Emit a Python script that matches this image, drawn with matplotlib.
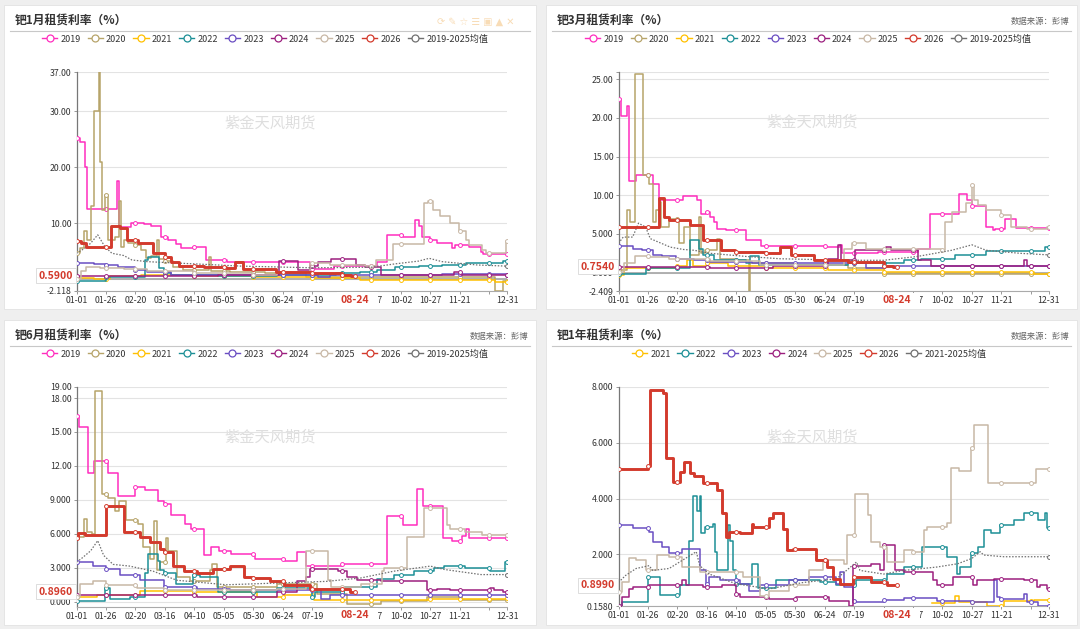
import numpy as np
import matplotlib
matplotlib.use("Agg")
import matplotlib.pyplot as plt
from matplotlib.patches import Rectangle
from matplotlib.lines import Line2D

plt.rcParams['font.family'] = ['Noto Sans CJK SC', 'DejaVu Sans']
plt.rcParams['axes.unicode_minus'] = False

# ---------------- x axis (day of year, leap-year calendar) ----------------
TICK_DAYS = [0, 25, 50, 75, 100, 125, 150, 175, 200, 225, 250, 275, 300, 325, 350, 365]
TICK_LABELS = ["01-01", "01-26", "02-20", "03-16", "04-10", "05-05", "05-30", "06-24",
               "07-19", "08-13", "09-07", "10-02", "10-27", "11-21", "12-16", "12-31"]
HIDDEN_LABELS = ["08-13", "12-16"]
CUR_DAY = 236
CUR_LABEL = "08-24"

YEARS_A = ["2019", "2020", "2021", "2022", "2023", "2024", "2025", "2026", "2019-2025均值"]
YEARS_B = ["2021", "2022", "2023", "2024", "2025", "2026", "2021-2025均值"]

# ---------------- Panel 1: 1-month lease rate ----------------
P1_2019_D = [0, 3, 7, 9, 34, 36, 46, 57, 63, 72, 78, 84, 89, 99, 110, 128, 198, 218, 255, 263, 277, 287, 290, 293, 300, 306, 318, 321, 333, 343, 345, 365]
P1_2019_V = [25.3, 24.5, 20.0, 12.5, 17.5, 9.3, 10.0, 9.8, 9.4, 7.6, 7.0, 6.2, 5.5, 5.7, 3.4, 3.0, 1.8, 2.4, 3.1, 7.9, 7.6, 10.6, 9.4, 7.6, 7.0, 6.4, 5.5, 6.1, 5.7, 4.9, 4.5, 4.5]
P1_2020_D = [0, 3, 6, 9, 12, 15, 19, 20, 22, 24, 27, 33, 36, 38, 40, 44, 49, 55, 59, 63, 68, 70, 75, 82, 90, 112, 114, 130, 160, 195, 355, 362, 365]
P1_2020_V = [4.6, 5.5, 8.5, 7.0, 13.0, 30.0, 37.0, 21.0, 12.4, 15.0, 7.0, 7.5, 13.9, 5.8, 7.0, 6.5, 6.0, 5.2, 3.7, 4.2, 7.0, 3.5, 3.3, 2.2, 1.6, 4.0, 1.5, 1.3, 1.0, 0.3, -2.1, -0.3, -0.3]
P1_2021_D = [0, 15, 28, 55, 100, 150, 200, 240, 300, 355, 365]
P1_2021_V = [0.1, 0.0, 0.5, 0.7, 0.5, 0.3, 0.1, -0.2, -0.1, -0.6, -0.6]
P1_2022_D = [0, 25, 58, 61, 70, 74, 80, 120, 170, 220, 240, 255, 270, 290, 310, 330, 355, 362, 365]
P1_2022_V = [-0.3, 0.4, 3.4, 4.0, 2.0, 1.0, 0.7, 0.6, 0.8, 1.0, 1.3, 1.6, 2.1, 2.4, 2.5, 2.8, 2.8, 3.3, 3.3]
P1_2023_D = [0, 15, 25, 35, 50, 60, 80, 200, 205, 215, 300, 310, 365]
P1_2023_V = [2.9, 2.7, 2.5, 2.2, 1.6, 1.2, 0.8, 0.7, 0.4, 0.7, 0.8, 0.9, 0.7]
P1_2024_D = [0, 120, 172, 188, 198, 205, 216, 237, 245, 258, 320, 326, 365]
P1_2024_V = [0.6, 0.7, 3.2, 1.6, 2.3, 3.0, 3.6, 2.5, 2.2, 0.8, 1.3, 0.8, 0.8]
P1_2025_D = [0, 4, 8, 20, 40, 60, 100, 150, 170, 198, 215, 245, 254, 268, 295, 298, 302, 308, 317, 324, 330, 333, 344, 347, 364, 365]
P1_2025_V = [0.0, 1.5, 2.2, 2.0, 1.8, 1.5, 1.0, 0.8, 1.2, 2.8, 2.5, 2.3, 3.4, 6.3, 13.6, 13.9, 12.4, 11.2, 10.0, 8.5, 7.0, 6.1, 5.2, 4.6, 6.8, 6.8]
P1_2026_D = [0, 4, 8, 29, 37, 43, 52, 65, 75, 80, 87, 108, 127, 134, 141, 169, 199, 225, 233, 236]
P1_2026_V = [6.8, 6.5, 5.8, 9.5, 9.1, 7.0, 6.4, 4.6, 4.0, 3.1, 2.3, 2.2, 1.9, 3.1, 1.7, 1.3, 1.0, 0.8, 0.59, 0.59]
P1_MEAN_D = [0, 7, 12, 18, 24, 30, 40, 47, 60, 90, 140, 200, 250, 270, 290, 299, 310, 340, 365]
P1_MEAN_V = [4.6, 5.5, 6.4, 7.9, 5.8, 4.6, 4.2, 3.4, 3.1, 2.8, 2.3, 2.0, 2.1, 2.7, 3.2, 3.7, 3.1, 2.5, 2.3]

# ---------------- Panel 2: 3-month lease rate ----------------
P2_2019_D = [0, 2, 7, 9, 15, 29, 34, 55, 67, 70, 74, 78, 81, 84, 91, 108, 121, 176, 188, 190, 220, 254, 264, 289, 296, 300, 312, 318, 320, 328, 337, 365]
P2_2019_V = [22.4, 20.3, 21.5, 11.9, 12.6, 11.5, 9.4, 9.9, 9.4, 7.6, 7.8, 7.2, 6.6, 5.7, 5.5, 4.2, 3.4, 3.3, 3.6, 2.5, 2.7, 3.1, 7.6, 10.2, 9.4, 8.6, 5.9, 5.5, 5.7, 7.0, 5.8, 5.8]
P2_2020_D = [0, 7, 10, 14, 21, 26, 29, 32, 35, 36, 43, 51, 56, 61, 68, 70, 73, 84, 86, 100, 111, 112, 150, 195, 225, 365]
P2_2020_V = [0.3, 8.1, 6.5, 25.7, 12.6, 11.5, 6.6, 8.1, 9.1, 5.9, 7.0, 3.8, 5.9, 2.3, 7.2, 2.5, 2.9, 4.4, 1.8, 1.6, -2.409, 1.2, 1.0, 0.6, -0.2, -0.2]
P2_2021_D = [0, 5, 50, 58, 63, 75, 93, 124, 178, 225, 353, 365]
P2_2021_V = [-0.3, 0.6, 0.8, 1.6, 0.9, 1.2, 0.8, 0.6, 0.3, 0.1, -0.2, -0.2]
P2_2022_D = [0, 23, 61, 68, 72, 81, 108, 112, 119, 195, 225, 242, 257, 286, 312, 362, 365]
P2_2022_V = [-0.2, 0.6, 4.2, 3.1, 2.3, 1.6, 1.2, 2.1, 1.0, 1.2, 1.3, 1.6, 1.8, 2.3, 2.8, 3.3, 3.3]
P2_2023_D = [0, 12, 20, 29, 37, 49, 64, 78, 113, 210, 225, 365]
P2_2023_V = [3.4, 3.1, 2.9, 2.3, 2.1, 1.8, 1.6, 1.4, 1.2, 0.6, 0.8, 0.8]
P2_2024_D = [0, 78, 131, 178, 186, 189, 201, 227, 231, 254, 265, 344, 347, 365]
P2_2024_V = [0.7, 0.6, 0.8, 1.8, 3.6, 1.6, 2.9, 3.3, 2.9, 1.6, 0.8, 1.6, 0.8, 0.8]
P2_2025_D = [0, 5, 14, 26, 43, 78, 120, 191, 198, 210, 274, 277, 283, 295, 300, 302, 305, 312, 325, 333, 347, 364, 365]
P2_2025_V = [0.1, 1.2, 2.2, 2.0, 1.8, 1.5, 1.0, 3.1, 3.8, 3.0, 2.9, 6.5, 7.8, 9.0, 11.3, 9.4, 8.7, 8.1, 7.4, 5.9, 5.6, 5.9, 5.9]
P2_2026_D = [0, 34, 39, 43, 61, 72, 87, 99, 125, 137, 146, 166, 195, 225, 233, 236]
P2_2026_V = [5.9, 9.6, 7.2, 6.8, 6.1, 4.2, 2.9, 2.7, 2.5, 3.3, 2.3, 1.7, 1.4, 0.9, 0.754, 0.754]
P2_MEAN_D = [0, 4, 12, 17, 23, 27, 44, 55, 64, 78, 108, 137, 195, 225, 254, 283, 300, 312, 341, 365]
P2_MEAN_V = [3.8, 4.6, 4.6, 6.4, 5.9, 4.4, 3.3, 3.0, 2.9, 2.5, 2.1, 1.8, 1.6, 1.6, 2.1, 2.9, 3.6, 2.9, 2.5, 2.3]

# ---------------- Panel 3: 6-month lease rate ----------------
P3_2019_D = [0, 2, 10, 15, 27, 35, 50, 58, 69, 74, 80, 92, 97, 108, 114, 121, 131, 151, 177, 187, 195, 225, 263, 277, 289, 294, 311, 318, 327, 330, 333, 365]
P3_2019_V = [16.4, 15.45, 11.4, 12.45, 11.4, 9.3, 10.1, 9.9, 8.9, 8.6, 7.7, 6.9, 6.4, 4.1, 4.8, 4.5, 4.2, 3.8, 3.6, 4.4, 3.15, 3.3, 7.6, 6.8, 10.0, 8.5, 5.6, 5.4, 5.8, 6.4, 5.6, 5.6]
P3_2020_D = [0, 6, 9, 13, 16, 22, 27, 33, 36, 42, 52, 56, 62, 66, 68, 71, 76, 78, 85, 96, 113, 115, 119, 170, 204, 229, 258, 297, 326, 365]
P3_2020_V = [5.7, 7.3, 6.2, 6.0, 18.66, 9.5, 9.2, 8.0, 8.9, 7.2, 6.9, 4.8, 3.8, 7.1, 2.8, 3.5, 5.6, 4.5, 2.2, 1.8, 2.8, 3.3, 1.3, 1.6, 0.7, -0.2, 0.1, 0.4, 0.15, 0.15]
P3_2021_D = [0, 17, 54, 99, 153, 176, 201, 300, 365]
P3_2021_V = [0.4, 0.6, 0.95, 0.85, 0.4, 0.6, 0.15, 0.2, 0.3]
P3_2022_D = [0, 24, 28, 45, 58, 61, 69, 71, 74, 84, 99, 105, 120, 170, 200, 202, 227, 255, 269, 286, 303, 312, 329, 351, 363, 365]
P3_2022_V = [0.1, 1.2, 0.25, 0.4, 2.5, 4.2, 3.6, 2.8, 2.5, 1.6, 2.4, 2.2, 0.9, 1.25, 0.4, 0.85, 1.3, 2.0, 2.4, 2.7, 3.0, 3.15, 3.0, 2.7, 3.5, 3.5]
P3_2023_D = [0, 14, 25, 37, 54, 74, 102, 130, 190, 207, 215, 365]
P3_2023_V = [3.5, 3.15, 2.85, 2.4, 1.9, 1.3, 1.15, 1.05, 1.0, 0.25, 0.6, 0.6]
P3_2024_D = [0, 102, 170, 187, 195, 198, 222, 229, 238, 258, 297, 306, 317, 351, 354, 362, 365]
P3_2024_V = [0.6, 0.45, 0.85, 1.8, 2.2, 2.85, 2.7, 2.2, 1.9, 1.8, 1.0, 1.15, 1.0, 1.25, 1.0, 0.85, 0.85]
P3_2025_D = [0, 3, 14, 25, 51, 74, 102, 170, 195, 213, 216, 241, 259, 261, 280, 295, 314, 317, 329, 344, 365]
P3_2025_V = [0.4, 1.6, 1.8, 1.5, 1.25, 1.05, 1.0, 1.1, 4.5, 1.9, 1.3, 1.6, 2.7, 3.0, 5.75, 8.3, 6.8, 6.4, 6.2, 5.9, 5.9]
P3_2026_D = [0, 1, 7, 25, 40, 54, 62, 71, 74, 82, 91, 102, 116, 130, 142, 150, 164, 176, 198, 232, 236]
P3_2026_V = [5.6, 6.05, 5.9, 8.5, 6.2, 5.75, 5.3, 4.7, 4.4, 3.15, 2.7, 2.5, 2.85, 3.15, 2.2, 2.1, 1.8, 1.5, 1.15, 0.896, 0.896]
P3_MEAN_D = [0, 4, 12, 18, 23, 31, 45, 65, 85, 127, 212, 241, 269, 300, 312, 343, 365]
P3_MEAN_V = [3.5, 3.8, 4.5, 5.4, 4.1, 3.3, 3.15, 2.7, 1.9, 1.5, 1.8, 2.1, 2.7, 3.15, 2.85, 2.4, 2.4]

# ---------------- Panel 4: 1-year lease rate ----------------
P4_2021_D = [266, 286, 289, 313, 327, 353, 365]
P4_2021_V = [0.25, 0.53, 0.3, 0.17, 0.35, 0.37, 0.37]
P4_2022_D = [0, 3, 25, 35, 52, 60, 63, 67, 69, 70, 73, 80, 82, 84, 93, 95, 97, 100, 113, 118, 134, 171, 185, 202, 228, 242, 258, 279, 287, 290, 299, 305, 310, 316, 324, 336, 344, 356, 362, 364, 365]
P4_2022_V = [0.17, 0.29, 1.2, 0.55, 0.9, 2.5, 4.08, 3.54, 4.08, 2.76, 3.0, 3.1, 2.1, 1.43, 3.06, 2.5, 1.43, 0.95, 1.67, 0.8, 1.07, 1.0, 0.9, 1.07, 1.3, 1.55, 2.28, 1.9, 1.3, 1.55, 2.04, 2.28, 2.88, 2.76, 3.06, 3.24, 3.48, 3.24, 3.48, 2.94, 2.94]
P4_2023_D = [0, 12, 26, 29, 37, 43, 54, 69, 74, 77, 86, 103, 111, 120, 145, 162, 185, 188, 191, 199, 202, 225, 242, 270, 299, 319, 321, 324, 344, 347, 356, 365]
P4_2023_V = [3.06, 2.94, 2.82, 2.46, 2.28, 2.04, 2.2, 1.43, 0.95, 1.2, 1.07, 0.95, 0.7, 0.9, 1.07, 1.2, 0.95, 1.37, 0.83, 0.35, 0.29, 0.37, 0.45, 0.35, 0.29, 1.07, 0.47, 0.4, 0.6, 0.29, 0.17, 0.17]
P4_2024_D = [0, 3, 9, 12, 26, 54, 57, 72, 88, 100, 103, 128, 151, 179, 196, 199, 214, 222, 225, 235, 242, 267, 270, 284, 301, 304, 319, 344, 355, 358, 364, 365]
P4_2024_V = [0.17, 0.47, 0.77, 0.83, 0.9, 1.07, 0.9, 0.83, 0.9, 0.6, 0.47, 0.4, 0.47, 0.35, 0.17, 1.6, 1.67, 1.45, 2.34, 1.43, 1.37, 1.07, 0.9, 1.2, 0.9, 1.07, 1.13, 1.07, 0.83, 0.9, 0.77, 0.77]
P4_2025_D = [0, 3, 9, 15, 23, 33, 43, 54, 69, 106, 120, 128, 145, 162, 174, 191, 194, 201, 212, 214, 222, 228, 242, 250, 259, 262, 279, 282, 289, 299, 302, 314, 354, 365]
P4_2025_V = [0.65, 1.0, 1.86, 1.8, 1.43, 1.98, 1.92, 1.55, 1.37, 1.2, 0.53, 0.7, 0.9, 1.43, 1.8, 1.67, 2.7, 4.15, 3.42, 2.46, 2.28, 1.73, 2.16, 2.1, 2.88, 3.0, 3.12, 5.08, 4.99, 5.8, 6.63, 4.57, 5.05, 5.05]
P4_2026_D = [0, 25, 27, 38, 40, 46, 52, 56, 61, 64, 72, 84, 88, 91, 94, 103, 113, 114, 128, 131, 140, 143, 148, 168, 177, 182, 188, 199, 214, 228, 236]
P4_2026_V = [5.06, 5.18, 7.88, 7.76, 5.44, 4.6, 4.95, 5.3, 4.9, 4.8, 4.57, 4.3, 3.48, 2.64, 2.8, 2.76, 3.1, 3.0, 3.3, 3.48, 2.9, 2.15, 2.2, 1.8, 1.55, 1.13, 0.95, 1.2, 1.0, 0.9, 0.899]
P4_MEAN_D = [0, 6, 15, 26, 29, 43, 66, 69, 77, 100, 128, 157, 185, 202, 205, 225, 242, 270, 288, 300, 307, 310, 327, 365]
P4_MEAN_V = [1.0, 1.25, 1.5, 1.6, 1.43, 1.5, 2.1, 1.6, 1.3, 0.95, 0.77, 1.0, 1.13, 1.73, 1.43, 1.3, 1.43, 1.55, 1.67, 1.86, 2.1, 1.98, 1.92, 1.92]

# ---------------- styles ----------------
COLORS = {"2019": "#FF2DBE", "2020": "#B7A46A", "2021": "#FFC000", "2022": "#1C8F96",
          "2023": "#6A4EC2", "2024": "#9C1F7F", "2025": "#C8B8A6", "2026": "#D33A2C",
          "mean": "#707070"}
RED = "#D33A2C"
W, H = 1080, 629

fig = plt.figure(figsize=(W / 100, H / 100), dpi=100)
fig.patch.set_facecolor("#efefef")


def fx(x):
    return x / W


def fy(y):
    return 1 - y / H


def step_value(d, v, day):
    i = np.searchsorted(np.array(d), day, side="right") - 1
    return np.array(v)[i]


def draw_panel(box, axbox, title, series, legend_names, ylim, yticks, ylabels,
               cur_val, zero_line, source, legend_cx):
    x0, y0, x1, y1 = box
    fig.add_artist(Rectangle((fx(x0), fy(y1)), fx(x1 - x0), (y1 - y0) / H,
                             transform=fig.transFigure, facecolor="white",
                             edgecolor="#e2e2e2", lw=0.6, zorder=-5))
    fig.text(fx(x0 + 11), fy(y0 + 16.5), title, fontsize=8.5, fontweight="bold",
             color="#333333", ha="left", va="center")
    fig.add_artist(Line2D([fx(x0 + 6), fx(x1 - 6)], [fy(y0 + 26), fy(y0 + 26)],
                          transform=fig.transFigure, color="#c8c8c8", lw=0.8))
    if source:
        fig.text(fx(x1 - 8), fy(y0 + 16.5), "数据来源：彭博", fontsize=6, color="#666666",
                 ha="right", va="center")
    else:
        fig.text(fx(x1 - 22), fy(y0 + 17), "⟳ ✎ ☆ ☰ ▣ ▲ ✕", fontsize=7, color="#f8dcb6",
                 ha="right", va="center", family=["DejaVu Sans"])

    ax0, ay0, ax1, ay1 = axbox
    ax = fig.add_axes([fx(ax0), fy(ay1), fx(ax1 - ax0), (ay1 - ay0) / H])
    ax.set_facecolor("none")
    ax.text(0.45, 0.77, "紫金天风期货", transform=ax.transAxes, fontsize=11,
            color="#dedede", ha="center", va="center", zorder=0.5)

    handles = []
    for k, (key, d, v) in enumerate(series):
        c = COLORS[key]
        if key == "mean":
            ax.plot(d, v, color=c, lw=0.9, ls=(0, (1.2, 1.3)), zorder=3.8)
            ax.plot([d[-1]], [v[-1]], ls="none", marker="o", ms=2.8, mfc="white",
                    mec=c, mew=0.7, zorder=3.85)
        else:
            lw = 2.1 if key == "2026" else 1.1
            z = 3.9 if key == "2026" else 3 + k * 0.05
            ax.step(d, v, where="post", color=c, lw=lw, zorder=z)
            md = [t for t in TICK_DAYS if d[0] <= t <= d[-1]]
            if d[-1] not in md:
                md.append(d[-1])
            mv = [step_value(d, v, t) for t in md]
            ax.plot(md, mv, ls="none", marker="o", ms=2.8, mfc="white", mec=c,
                    mew=0.7, zorder=z + 0.01)
        handles.append(Line2D([0], [0], color=c, lw=1.0, marker="o", ms=5,
                              mfc="white", mec=c, mew=0.9))

    fig.legend(handles, legend_names, loc="center",
               bbox_to_anchor=(fx(legend_cx), fy(y0 + 34)), ncol=len(handles),
               frameon=False, fontsize=6.5, handlelength=1.7, handletextpad=0.35,
               columnspacing=0.75, borderaxespad=0, borderpad=0,
               labelcolor="#333333")

    ax.set_xlim(0, 365)
    ax.set_ylim(*ylim)
    ax.set_xticks(TICK_DAYS)
    ax.set_xticklabels(["" if lab in HIDDEN_LABELS else lab for lab in TICK_LABELS])
    ax.set_yticks(yticks)
    ax.set_yticklabels(ylabels)
    ax.grid(axis="y", color="#e3e3e3", lw=0.8)
    ax.set_axisbelow(True)
    for s in ["top", "right"]:
        ax.spines[s].set_visible(False)
    ax.spines["left"].set_color("#777777")
    ax.spines["left"].set_linewidth(0.9)
    ax.spines["bottom"].set_color("#aaaaaa")
    ax.spines["bottom"].set_linewidth(0.8)
    ax.tick_params(axis="both", labelsize=6.3, labelcolor="#333333", color="#888888",
                   length=2.2, width=0.6, pad=1.5)
    if zero_line:
        ax.axhline(0, color="#aaaaaa", lw=1.3, zorder=1.5)

    ax.text(-0.008, cur_val, f"{cur_val:.4f}", transform=ax.get_yaxis_transform(),
            ha="right", va="center", color=RED, fontsize=7.5, fontweight="bold",
            bbox=dict(boxstyle="square,pad=0.25", fc="white", ec="#d8d8d8", lw=0.6),
            zorder=20, clip_on=False)
    # white mask below the axis where the current-date label sits
    ax.add_patch(Rectangle((CUR_DAY - 15, -0.075), 34.5, 0.068,
                           transform=ax.get_xaxis_transform(), facecolor="white",
                           edgecolor="none", zorder=19, clip_on=False))
    ax.text(CUR_DAY, -0.040, CUR_LABEL, transform=ax.get_xaxis_transform(),
            ha="center", va="center", color=RED, fontsize=7.5, fontweight="bold",
            zorder=20, clip_on=False)
    return ax


S1 = [("2019", P1_2019_D, P1_2019_V), ("2020", P1_2020_D, P1_2020_V),
      ("2021", P1_2021_D, P1_2021_V), ("2022", P1_2022_D, P1_2022_V),
      ("2023", P1_2023_D, P1_2023_V), ("2024", P1_2024_D, P1_2024_V),
      ("2025", P1_2025_D, P1_2025_V), ("2026", P1_2026_D, P1_2026_V),
      ("mean", P1_MEAN_D, P1_MEAN_V)]
S2 = [("2019", P2_2019_D, P2_2019_V), ("2020", P2_2020_D, P2_2020_V),
      ("2021", P2_2021_D, P2_2021_V), ("2022", P2_2022_D, P2_2022_V),
      ("2023", P2_2023_D, P2_2023_V), ("2024", P2_2024_D, P2_2024_V),
      ("2025", P2_2025_D, P2_2025_V), ("2026", P2_2026_D, P2_2026_V),
      ("mean", P2_MEAN_D, P2_MEAN_V)]
S3 = [("2019", P3_2019_D, P3_2019_V), ("2020", P3_2020_D, P3_2020_V),
      ("2021", P3_2021_D, P3_2021_V), ("2022", P3_2022_D, P3_2022_V),
      ("2023", P3_2023_D, P3_2023_V), ("2024", P3_2024_D, P3_2024_V),
      ("2025", P3_2025_D, P3_2025_V), ("2026", P3_2026_D, P3_2026_V),
      ("mean", P3_MEAN_D, P3_MEAN_V)]
S4 = [("2021", P4_2021_D, P4_2021_V), ("2022", P4_2022_D, P4_2022_V),
      ("2023", P4_2023_D, P4_2023_V), ("2024", P4_2024_D, P4_2024_V),
      ("2025", P4_2025_D, P4_2025_V), ("2026", P4_2026_D, P4_2026_V),
      ("mean", P4_MEAN_D, P4_MEAN_V)]

draw_panel((4, 5, 536, 309), (76.5, 72.3, 507, 290.8), "钯1月租赁利率（%）", S1, YEARS_A,
           (-2.118, 37.0), [-2.118, 0, 10, 20, 30, 37],
           ["-2.118", "0.000", "10.00", "20.00", "30.00", "37.00"],
           P1_2026_V[-1], True, False, 265)
draw_panel((546, 5, 1077, 309), (618.5, 71.7, 1048.5, 291.3), "钯3月租赁利率（%）", S2, YEARS_A,
           (-2.409, 25.98), [-2.409, 0, 5, 10, 15, 20, 25, 25.98],
           ["-2.409", "0.000", "5.000", "10.00", "15.00", "20.00", "25.00", ""],
           P2_2026_V[-1], True, True, 808)
draw_panel((4, 320, 536, 625), (76.5, 386.7, 507, 606.5), "钯6月租赁利率（%）", S3, YEARS_A,
           (-0.42, 19.0), [0, 3, 6, 9, 12, 15, 18, 19],
           ["0.000", "3.000", "6.000", "9.000", "12.00", "15.00", "18.00", "19.00"],
           P3_2026_V[-1], False, True, 265)
draw_panel((546, 320, 1077, 625), (618.5, 386.7, 1048.5, 606), "钯1年租赁利率（%）", S4, YEARS_B,
           (0.158, 8.0), [0.158, 2, 4, 6, 8],
           ["0.1580", "2.000", "4.000", "6.000", "8.000"],
           P4_2026_V[-1], False, True, 809)

fig.savefig("out.png", dpi=100, facecolor=fig.get_facecolor())
